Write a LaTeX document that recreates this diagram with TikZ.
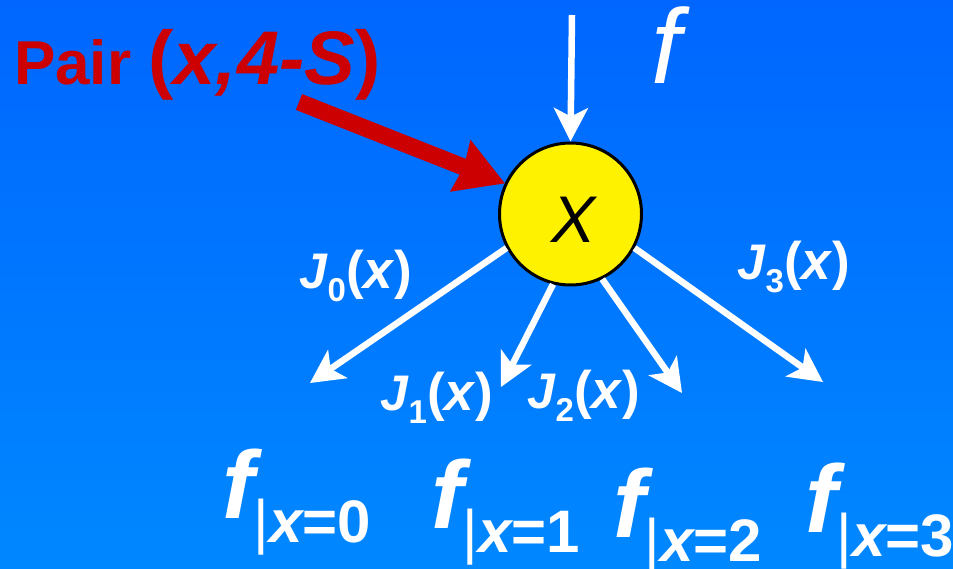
\documentclass[tikz,border=0pt]{standalone}
\usepackage{fontspec}
\setmainfont{Liberation Sans}
\usetikzlibrary{arrows.meta}
\definecolor{bgtop}{RGB}{0,102,255}
\definecolor{bgbot}{RGB}{0,136,255}
\definecolor{pairred}{RGB}{204,0,0}
\newcommand{\fsz}[1]{\fontsize{#1}{#1}\selectfont}
\newcommand{\Jlab}[1]{\textbf{\textit{J}}\raisebox{-13pt}{\fsz{33}\bfseries #1}{\fsz{53}\bfseries(\textit{x})}}
\newcommand{\flab}[1]{{\fsz{96}\bfseries\itshape f}\raisebox{-24pt}{\fsz{60}\mdseries\upshape |\bfseries\itshape x\upshape =#1}}
\begin{document}
\begin{tikzpicture}[x=1pt,y=-1pt,
  lbl/.style={inner sep=0, outer sep=0, anchor=base west, text=white},
  warrow/.style={draw=white, line width=6.5pt, -{Stealth[length=34pt,width=35pt,inset=9pt,line width=0pt]}},
  redarrow/.style={draw=pairred, line width=17pt, -{Stealth[length=48pt,width=56pt,inset=4pt,line width=0pt]}}]
\shade[top color=bgtop, bottom color=bgbot] (0,0) rectangle (953,569);
\useasboundingbox (0,0) rectangle (953,569);
% central node
\node[circle, draw=black, line width=3pt, fill=yellow, minimum size=142pt, inner sep=0] (c) at (570.5,214) {};
\node[inner sep=0] (cx) at (574,219.5) {\fsz{66}\itshape X};
% labels
\node[lbl, text=pairred] (pair) at (14,85) {\fsz{62}\bfseries Pair {\fsz{76}(\itshape x,4-S\upshape)}};
\node[lbl] (ftop) at (651,84) {\fsz{106}\itshape f};
\node[lbl] (j0) at (299,289) {\fsz{50}\Jlab{0}};
\node[lbl] (j1) at (380,410) {\fsz{50}\Jlab{1}};
\node[lbl] (j2) at (527,408) {\fsz{50}\Jlab{2}};
\node[lbl] (j3) at (737,280) {\fsz{50}\Jlab{3}};
\node[lbl] (f0) at (222,518) {\flab{0}};
\node[lbl] (f1) at (431,528) {\flab{1}};
\node[lbl] (f2) at (613,537) {\flab{2}};
\node[lbl] (f3) at (805,532) {\flab{3}};
% connector end points
\coordinate (rt) at (299,102);
\coordinate (ft) at (572,15);
\coordinate (t0) at (310,383);
\coordinate (t1) at (501,387);
\coordinate (t2) at (682,393);
\coordinate (t3) at (823,382);
% connectors
\draw[redarrow] (rt) -- (c.155);
\draw[warrow] (ft) -- (c.north);
\draw[warrow] (c.208) -- (t0);
\draw[warrow] (c.256) -- (t1);
\draw[warrow] (c.296) -- (t2);
\draw[warrow] (c.332) -- (t3);
\end{tikzpicture}
\end{document}
